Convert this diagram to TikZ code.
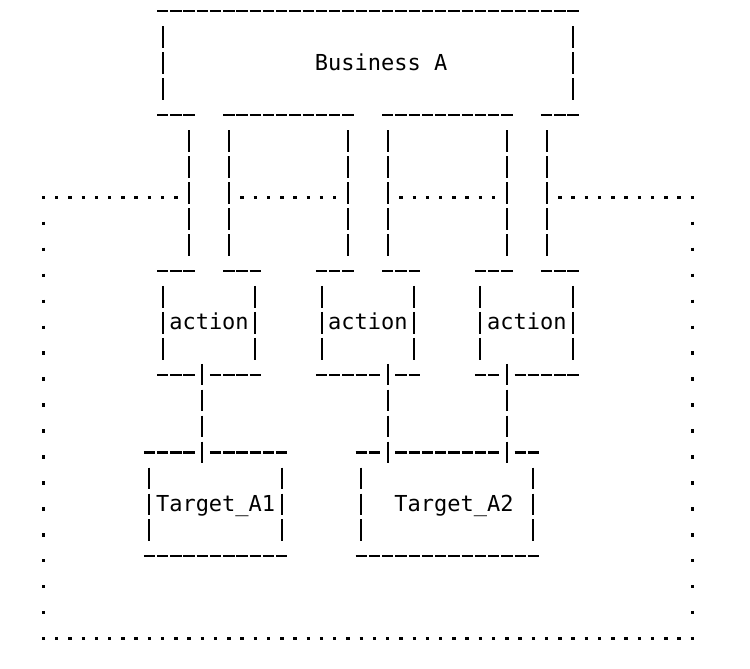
\documentclass[tikz,border=0pt]{standalone}
\usepackage{fontspec}
\newfontfamily\monofont{DejaVu Sans Mono}

\begin{document}
\begin{tikzpicture}[x=13.24pt,y=-25.95pt,line cap=butt]
\tikzstyle{hbar}=[line width=2.1pt, dash pattern=on 11.3pt off 1.94pt, shorten <=-5.65pt, shorten >=-5.65pt]
\tikzstyle{pipe}=[line width=2.1pt, dash pattern=on 21.7pt off 4.25pt, shorten <=-10.85pt, shorten >=-10.85pt]
\tikzstyle{hdots}=[line width=3.4pt, dash pattern=on 3.4pt off 9.84pt, shorten <=-1.7pt, shorten >=-1.7pt, yshift=-4.5pt]
\tikzstyle{vdots}=[line width=3.4pt, dash pattern=on 3.4pt off 22.55pt, shorten <=-1.7pt, shorten >=-1.7pt, yshift=-4.5pt]
\tikzstyle{txt}=[font=\monofont\fontsize{22}{26}\selectfont, inner sep=0pt, anchor=base, yshift=-7pt]
\useasboundingbox (-3.2855,-0.4355) rectangle (53.36,25.31);
\node[txt] (biz) at (25.5,2) {Business A};
\node[txt] (act1) at (12.5,12) {action};
\node[txt] (act2) at (24.5,12) {action};
\node[txt] (act3) at (36.5,12) {action};
\node[txt] (tgt1) at (13,19) {Target\_A1};
\node[txt] (tgt2) at (31,19) {Target\_A2};
% Business A box
\draw[hbar] (9,0) -- (40,0);
\draw[pipe] (9,1) -- (9,3);
\draw[pipe] (40,1) -- (40,3);
\draw[hbar] (9,4) -- (11,4);
\draw[hbar] (14,4) -- (23,4);
\draw[hbar] (26,4) -- (35,4);
\draw[hbar] (38,4) -- (40,4);
% action boxes
\draw[hbar] (9,10) -- (11,10);
\draw[hbar] (14,10) -- (16,10);
\draw[pipe] (9,11) -- (9,13);
\draw[pipe] (16,11) -- (16,13);
\draw[hbar] (9,14) -- (11,14);
\draw[hbar] (13,14) -- (16,14);
\draw[hbar] (21,10) -- (23,10);
\draw[hbar] (26,10) -- (28,10);
\draw[pipe] (21,11) -- (21,13);
\draw[pipe] (28,11) -- (28,13);
\draw[hbar] (21,14) -- (25,14);
\draw[hbar] (27,14) -- (28,14);
\draw[hbar] (33,10) -- (35,10);
\draw[hbar] (38,10) -- (40,10);
\draw[pipe] (33,11) -- (33,13);
\draw[pipe] (40,11) -- (40,13);
\draw[hbar] (33,14) -- (34,14);
\draw[hbar] (36,14) -- (40,14);
% target boxes
\draw[hbar] (8,17) -- (11,17);
\draw[hbar] (13,17) -- (18,17);
\draw[pipe] (8,18) -- (8,20);
\draw[pipe] (18,18) -- (18,20);
\draw[hbar] (8,21) -- (18,21);
\draw[hbar] (24,17) -- (25,17);
\draw[hbar] (27,17) -- (34,17);
\draw[hbar] (36,17) -- (37,17);
\draw[pipe] (24,18) -- (24,20);
\draw[pipe] (37,18) -- (37,20);
\draw[hbar] (24,21) -- (37,21);
% ports
\coordinate (bo1a) at (11,5);
\coordinate (bo1b) at (14,5);
\coordinate (bo2a) at (23,5);
\coordinate (bo2b) at (26,5);
\coordinate (bo3a) at (35,5);
\coordinate (bo3b) at (38,5);
\coordinate (ai1a) at (11,9);
\coordinate (ai1b) at (14,9);
\coordinate (ai2a) at (23,9);
\coordinate (ai2b) at (26,9);
\coordinate (ai3a) at (35,9);
\coordinate (ai3b) at (38,9);
\coordinate (ao1) at (12,14);
\coordinate (ao2) at (26,14);
\coordinate (ao3) at (35,14);
\coordinate (ti1) at (12,17);
\coordinate (ti2a) at (26,17);
\coordinate (ti2b) at (35,17);
\draw[pipe] (bo1a) -- (ai1a);
\draw[pipe] (bo1b) -- (ai1b);
\draw[pipe] (bo2a) -- (ai2a);
\draw[pipe] (bo2b) -- (ai2b);
\draw[pipe] (bo3a) -- (ai3a);
\draw[pipe] (bo3b) -- (ai3b);
\draw[pipe] (ao1) -- (ti1);
\draw[pipe] (ao2) -- (ti2a);
\draw[pipe] (ao3) -- (ti2b);
% dotted boundary
\draw[hdots] (0,7) -- (10,7);
\draw[hdots] (15,7) -- (22,7);
\draw[hdots] (27,7) -- (34,7);
\draw[hdots] (39,7) -- (49,7);
\draw[vdots] (0,8) -- (0,23);
\draw[vdots] (49,8) -- (49,23);
\draw[hdots] (0,24) -- (49,24);
\end{tikzpicture}
\end{document}
